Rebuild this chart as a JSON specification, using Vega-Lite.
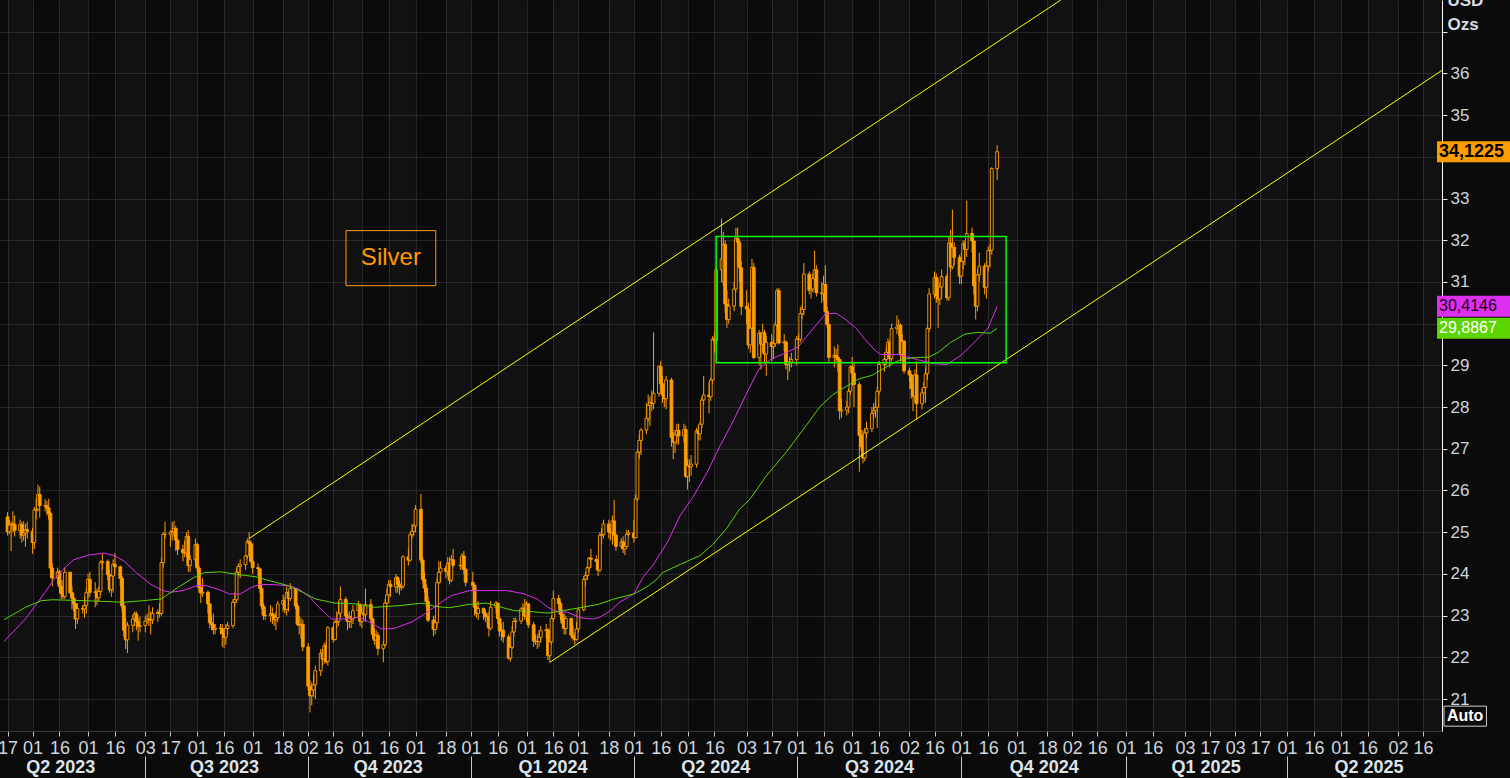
{
"$schema": "https://vega.github.io/schema/vega-lite/v6.json",
"width": 1442, "height": 731,
"autosize": {"type": "none"},
"padding": {"left": 0, "top": 0, "right": 68, "bottom": 47},
"background": "#0b0b0b",
"config": {"view": {"stroke": null}, "axis": {"labelFlush": false, "labelOverlap": false, "labelBound": false}},
"datasets": {
"candles": [
{"d":"2023-04-17","o":25.37,"h":25.48,"l":24.92,"c":25.01},
{"d":"2023-04-18","o":25.01,"h":25.30,"l":24.95,"c":25.17},
{"d":"2023-04-19","o":25.17,"h":25.25,"l":24.55,"c":25.20},
{"d":"2023-04-20","o":25.20,"h":25.50,"l":25.00,"c":25.19},
{"d":"2023-04-21","o":25.19,"h":25.40,"l":24.90,"c":25.04},
{"d":"2023-04-24","o":25.04,"h":25.30,"l":24.85,"c":25.18},
{"d":"2023-04-25","o":25.18,"h":25.25,"l":24.75,"c":24.93},
{"d":"2023-04-26","o":24.93,"h":25.26,"l":24.80,"c":24.98},
{"d":"2023-04-27","o":24.98,"h":25.20,"l":24.65,"c":25.06},
{"d":"2023-04-28","o":25.06,"h":25.25,"l":24.85,"c":25.02},
{"d":"2023-05-01","o":25.02,"h":25.10,"l":24.48,"c":24.75},
{"d":"2023-05-02","o":24.75,"h":25.60,"l":24.60,"c":25.53},
{"d":"2023-05-03","o":25.53,"h":25.82,"l":25.30,"c":25.55},
{"d":"2023-05-04","o":25.55,"h":26.14,"l":25.50,"c":25.90},
{"d":"2023-05-05","o":25.90,"h":26.09,"l":25.35,"c":25.64},
{"d":"2023-05-08","o":25.64,"h":25.80,"l":25.50,"c":25.63},
{"d":"2023-05-09","o":25.63,"h":25.75,"l":25.40,"c":25.58},
{"d":"2023-05-10","o":25.58,"h":25.80,"l":25.30,"c":25.45},
{"d":"2023-05-11","o":25.45,"h":25.50,"l":23.90,"c":24.14},
{"d":"2023-05-12","o":24.14,"h":24.25,"l":23.70,"c":23.90},
{"d":"2023-05-15","o":23.90,"h":24.15,"l":23.75,"c":24.05},
{"d":"2023-05-16","o":24.05,"h":24.10,"l":23.55,"c":23.70},
{"d":"2023-05-17","o":23.70,"h":23.85,"l":23.40,"c":23.53},
{"d":"2023-05-18","o":23.53,"h":23.85,"l":23.40,"c":23.46},
{"d":"2023-05-19","o":23.46,"h":24.15,"l":23.40,"c":24.04},
{"d":"2023-05-22","o":24.04,"h":24.05,"l":23.50,"c":23.55},
{"d":"2023-05-23","o":23.55,"h":23.70,"l":23.15,"c":23.42},
{"d":"2023-05-24","o":23.42,"h":23.55,"l":23.10,"c":23.28},
{"d":"2023-05-25","o":23.28,"h":23.30,"l":22.68,"c":22.92},
{"d":"2023-05-26","o":22.92,"h":23.30,"l":22.80,"c":23.17},
{"d":"2023-05-29","o":23.17,"h":23.25,"l":23.05,"c":23.16},
{"d":"2023-05-30","o":23.16,"h":23.45,"l":22.95,"c":23.24},
{"d":"2023-05-31","o":23.24,"h":23.65,"l":23.05,"c":23.55},
{"d":"2023-06-01","o":23.55,"h":24.00,"l":23.40,"c":23.87},
{"d":"2023-06-02","o":23.87,"h":24.05,"l":23.45,"c":23.56},
{"d":"2023-06-05","o":23.56,"h":23.80,"l":23.20,"c":23.57},
{"d":"2023-06-06","o":23.57,"h":23.65,"l":23.25,"c":23.43},
{"d":"2023-06-07","o":23.43,"h":23.70,"l":23.35,"c":23.58},
{"d":"2023-06-08","o":23.58,"h":24.32,"l":23.50,"c":24.27},
{"d":"2023-06-09","o":24.27,"h":24.50,"l":24.10,"c":24.30},
{"d":"2023-06-12","o":24.30,"h":24.35,"l":23.85,"c":23.98},
{"d":"2023-06-13","o":23.98,"h":24.10,"l":23.55,"c":23.62},
{"d":"2023-06-14","o":23.62,"h":24.00,"l":23.45,"c":23.95},
{"d":"2023-06-15","o":23.95,"h":24.35,"l":23.55,"c":24.23},
{"d":"2023-06-16","o":24.23,"h":24.50,"l":24.00,"c":24.17},
{"d":"2023-06-19","o":24.17,"h":24.20,"l":23.70,"c":23.89},
{"d":"2023-06-20","o":23.89,"h":23.95,"l":23.10,"c":23.23},
{"d":"2023-06-21","o":23.23,"h":23.30,"l":22.50,"c":22.65},
{"d":"2023-06-22","o":22.65,"h":22.95,"l":22.20,"c":22.42},
{"d":"2023-06-23","o":22.42,"h":22.85,"l":22.10,"c":22.77},
{"d":"2023-06-26","o":22.77,"h":23.02,"l":22.60,"c":22.92},
{"d":"2023-06-27","o":22.92,"h":23.10,"l":22.75,"c":23.04},
{"d":"2023-06-28","o":23.04,"h":23.10,"l":22.65,"c":22.86},
{"d":"2023-06-29","o":22.86,"h":22.95,"l":22.40,"c":22.74},
{"d":"2023-06-30","o":22.74,"h":22.98,"l":22.60,"c":22.76},
{"d":"2023-07-03","o":22.76,"h":23.00,"l":22.60,"c":22.87},
{"d":"2023-07-04","o":22.87,"h":23.05,"l":22.80,"c":22.92},
{"d":"2023-07-05","o":22.92,"h":23.25,"l":22.75,"c":22.90},
{"d":"2023-07-06","o":22.90,"h":23.10,"l":22.55,"c":22.90},
{"d":"2023-07-07","o":22.90,"h":23.20,"l":22.80,"c":23.05},
{"d":"2023-07-10","o":23.05,"h":23.15,"l":22.85,"c":23.08},
{"d":"2023-07-11","o":23.08,"h":23.30,"l":22.95,"c":23.05},
{"d":"2023-07-12","o":23.05,"h":24.40,"l":23.00,"c":24.27},
{"d":"2023-07-13","o":24.27,"h":25.00,"l":24.15,"c":24.95},
{"d":"2023-07-14","o":24.95,"h":25.25,"l":24.85,"c":24.95},
{"d":"2023-07-17","o":24.95,"h":25.05,"l":24.65,"c":25.00},
{"d":"2023-07-18","o":25.00,"h":25.25,"l":24.80,"c":25.02},
{"d":"2023-07-19","o":25.02,"h":25.27,"l":24.90,"c":25.09},
{"d":"2023-07-20","o":25.09,"h":25.15,"l":24.55,"c":24.81},
{"d":"2023-07-21","o":24.81,"h":24.85,"l":24.45,"c":24.59},
{"d":"2023-07-24","o":24.59,"h":24.70,"l":24.30,"c":24.51},
{"d":"2023-07-25","o":24.51,"h":24.80,"l":24.40,"c":24.50},
{"d":"2023-07-26","o":24.50,"h":25.00,"l":24.40,"c":24.90},
{"d":"2023-07-27","o":24.90,"h":25.05,"l":24.05,"c":24.20},
{"d":"2023-07-28","o":24.20,"h":24.45,"l":24.05,"c":24.34},
{"d":"2023-07-31","o":24.34,"h":24.85,"l":24.20,"c":24.70},
{"d":"2023-08-01","o":24.70,"h":24.75,"l":24.05,"c":24.14},
{"d":"2023-08-02","o":24.14,"h":24.20,"l":23.55,"c":23.67},
{"d":"2023-08-03","o":23.67,"h":23.75,"l":23.30,"c":23.54},
{"d":"2023-08-04","o":23.54,"h":23.90,"l":23.45,"c":23.56},
{"d":"2023-08-07","o":23.56,"h":23.60,"l":23.05,"c":23.28},
{"d":"2023-08-08","o":23.28,"h":23.30,"l":22.70,"c":22.83},
{"d":"2023-08-09","o":22.83,"h":23.00,"l":22.65,"c":22.79},
{"d":"2023-08-10","o":22.79,"h":23.05,"l":22.55,"c":22.67},
{"d":"2023-08-11","o":22.67,"h":22.80,"l":22.55,"c":22.70},
{"d":"2023-08-14","o":22.70,"h":22.80,"l":22.55,"c":22.69},
{"d":"2023-08-15","o":22.69,"h":22.80,"l":22.25,"c":22.57},
{"d":"2023-08-16","o":22.57,"h":22.70,"l":22.22,"c":22.48},
{"d":"2023-08-17","o":22.48,"h":22.80,"l":22.30,"c":22.69},
{"d":"2023-08-18","o":22.69,"h":22.85,"l":22.55,"c":22.76},
{"d":"2023-08-21","o":22.76,"h":23.40,"l":22.70,"c":23.32},
{"d":"2023-08-22","o":23.32,"h":23.55,"l":23.20,"c":23.38},
{"d":"2023-08-23","o":23.38,"h":24.15,"l":23.30,"c":24.04},
{"d":"2023-08-24","o":24.04,"h":24.25,"l":23.95,"c":24.18},
{"d":"2023-08-25","o":24.18,"h":24.35,"l":23.90,"c":24.22},
{"d":"2023-08-28","o":24.22,"h":24.45,"l":24.10,"c":24.43},
{"d":"2023-08-29","o":24.43,"h":24.85,"l":24.35,"c":24.78},
{"d":"2023-08-30","o":24.78,"h":25.00,"l":24.55,"c":24.73},
{"d":"2023-08-31","o":24.73,"h":24.80,"l":24.25,"c":24.30},
{"d":"2023-09-01","o":24.30,"h":24.70,"l":24.00,"c":24.15},
{"d":"2023-09-04","o":24.15,"h":24.25,"l":23.95,"c":24.12},
{"d":"2023-09-05","o":24.12,"h":24.15,"l":23.55,"c":23.65},
{"d":"2023-09-06","o":23.65,"h":23.75,"l":23.15,"c":23.23},
{"d":"2023-09-07","o":23.23,"h":23.30,"l":22.90,"c":23.01},
{"d":"2023-09-08","o":23.01,"h":23.20,"l":22.90,"c":23.00},
{"d":"2023-09-11","o":23.00,"h":23.25,"l":22.85,"c":23.05},
{"d":"2023-09-12","o":23.05,"h":23.20,"l":22.80,"c":23.00},
{"d":"2023-09-13","o":23.00,"h":23.05,"l":22.75,"c":22.90},
{"d":"2023-09-14","o":22.90,"h":23.10,"l":22.65,"c":22.95},
{"d":"2023-09-15","o":22.95,"h":23.35,"l":22.85,"c":23.28},
{"d":"2023-09-18","o":23.28,"h":23.50,"l":23.10,"c":23.36},
{"d":"2023-09-19","o":23.36,"h":23.45,"l":23.05,"c":23.15},
{"d":"2023-09-20","o":23.15,"h":23.70,"l":23.00,"c":23.55},
{"d":"2023-09-21","o":23.55,"h":23.60,"l":23.10,"c":23.41},
{"d":"2023-09-22","o":23.41,"h":23.78,"l":23.35,"c":23.65},
{"d":"2023-09-25","o":23.65,"h":23.65,"l":23.15,"c":23.23},
{"d":"2023-09-26","o":23.23,"h":23.30,"l":22.75,"c":22.79},
{"d":"2023-09-27","o":22.79,"h":23.00,"l":22.55,"c":22.77},
{"d":"2023-09-28","o":22.77,"h":22.95,"l":22.45,"c":22.79},
{"d":"2023-09-29","o":22.79,"h":22.90,"l":22.15,"c":22.25},
{"d":"2023-10-02","o":22.25,"h":22.35,"l":21.20,"c":21.31},
{"d":"2023-10-03","o":21.31,"h":21.45,"l":20.68,"c":21.08},
{"d":"2023-10-04","o":21.08,"h":21.40,"l":20.85,"c":21.22},
{"d":"2023-10-05","o":21.22,"h":21.60,"l":21.05,"c":21.34},
{"d":"2023-10-06","o":21.34,"h":21.80,"l":21.00,"c":21.68},
{"d":"2023-10-09","o":21.68,"h":22.20,"l":21.55,"c":22.10},
{"d":"2023-10-10","o":22.10,"h":22.20,"l":21.80,"c":21.96},
{"d":"2023-10-11","o":21.96,"h":22.35,"l":21.85,"c":22.28},
{"d":"2023-10-12","o":22.28,"h":22.40,"l":21.85,"c":21.90},
{"d":"2023-10-13","o":21.90,"h":22.75,"l":21.80,"c":22.71},
{"d":"2023-10-16","o":22.71,"h":22.75,"l":22.35,"c":22.43},
{"d":"2023-10-17","o":22.43,"h":22.90,"l":22.40,"c":22.84},
{"d":"2023-10-18","o":22.84,"h":23.10,"l":22.70,"c":22.86},
{"d":"2023-10-19","o":22.86,"h":23.35,"l":22.75,"c":23.06},
{"d":"2023-10-20","o":23.06,"h":23.70,"l":22.95,"c":23.39},
{"d":"2023-10-23","o":23.39,"h":23.45,"l":22.90,"c":22.99},
{"d":"2023-10-24","o":22.99,"h":23.05,"l":22.65,"c":22.86},
{"d":"2023-10-25","o":22.86,"h":23.10,"l":22.70,"c":22.97},
{"d":"2023-10-26","o":22.97,"h":23.00,"l":22.70,"c":22.92},
{"d":"2023-10-27","o":22.92,"h":23.25,"l":22.80,"c":23.12},
{"d":"2023-10-30","o":23.12,"h":23.35,"l":22.95,"c":23.26},
{"d":"2023-10-31","o":23.26,"h":23.30,"l":22.75,"c":22.86},
{"d":"2023-11-01","o":22.86,"h":23.20,"l":22.70,"c":23.06},
{"d":"2023-11-02","o":23.06,"h":23.25,"l":22.90,"c":23.02},
{"d":"2023-11-03","o":23.02,"h":23.65,"l":22.85,"c":23.27},
{"d":"2023-11-06","o":23.27,"h":23.40,"l":22.85,"c":22.92},
{"d":"2023-11-07","o":22.92,"h":22.95,"l":22.45,"c":22.55},
{"d":"2023-11-08","o":22.55,"h":22.70,"l":22.30,"c":22.41},
{"d":"2023-11-09","o":22.41,"h":22.65,"l":22.25,"c":22.53},
{"d":"2023-11-10","o":22.53,"h":22.60,"l":22.05,"c":22.21},
{"d":"2023-11-13","o":22.21,"h":22.40,"l":21.88,"c":22.30},
{"d":"2023-11-14","o":22.30,"h":23.40,"l":22.25,"c":23.30},
{"d":"2023-11-15","o":23.30,"h":23.65,"l":23.15,"c":23.50},
{"d":"2023-11-16","o":23.50,"h":23.85,"l":23.30,"c":23.75},
{"d":"2023-11-17","o":23.75,"h":23.85,"l":23.45,"c":23.69},
{"d":"2023-11-20","o":23.69,"h":24.00,"l":23.55,"c":23.91},
{"d":"2023-11-21","o":23.91,"h":23.95,"l":23.55,"c":23.75},
{"d":"2023-11-22","o":23.75,"h":23.85,"l":23.50,"c":23.68},
{"d":"2023-11-23","o":23.68,"h":23.80,"l":23.60,"c":23.70},
{"d":"2023-11-24","o":23.70,"h":24.45,"l":23.65,"c":24.41},
{"d":"2023-11-27","o":24.41,"h":24.60,"l":24.20,"c":24.33},
{"d":"2023-11-28","o":24.33,"h":25.00,"l":24.30,"c":24.94},
{"d":"2023-11-29","o":24.94,"h":25.20,"l":24.85,"c":25.02},
{"d":"2023-11-30","o":25.02,"h":25.20,"l":24.90,"c":25.15},
{"d":"2023-12-01","o":25.15,"h":25.65,"l":25.00,"c":25.55},
{"d":"2023-12-04","o":25.55,"h":25.92,"l":24.25,"c":24.33},
{"d":"2023-12-05","o":24.33,"h":24.40,"l":23.80,"c":23.87},
{"d":"2023-12-06","o":23.87,"h":24.05,"l":23.55,"c":23.66},
{"d":"2023-12-07","o":23.66,"h":23.75,"l":23.20,"c":23.34},
{"d":"2023-12-08","o":23.34,"h":23.45,"l":22.85,"c":22.89},
{"d":"2023-12-11","o":22.89,"h":23.00,"l":22.50,"c":22.67},
{"d":"2023-12-12","o":22.67,"h":23.00,"l":22.55,"c":22.83},
{"d":"2023-12-13","o":22.83,"h":23.90,"l":22.70,"c":23.79},
{"d":"2023-12-14","o":23.79,"h":24.30,"l":23.75,"c":24.04},
{"d":"2023-12-15","o":24.04,"h":24.30,"l":23.80,"c":24.14},
{"d":"2023-12-18","o":24.14,"h":24.20,"l":23.90,"c":24.06},
{"d":"2023-12-19","o":24.06,"h":24.40,"l":23.95,"c":24.26},
{"d":"2023-12-20","o":24.26,"h":24.40,"l":23.75,"c":23.85},
{"d":"2023-12-21","o":23.85,"h":24.45,"l":23.80,"c":24.34},
{"d":"2023-12-22","o":24.34,"h":24.60,"l":24.15,"c":24.21},
{"d":"2023-12-26","o":24.21,"h":24.40,"l":24.10,"c":24.20},
{"d":"2023-12-27","o":24.20,"h":24.50,"l":24.10,"c":24.43},
{"d":"2023-12-28","o":24.43,"h":24.55,"l":24.00,"c":24.11},
{"d":"2023-12-29","o":24.11,"h":24.15,"l":23.70,"c":23.80},
{"d":"2024-01-02","o":23.80,"h":24.05,"l":23.60,"c":23.73},
{"d":"2024-01-03","o":23.73,"h":23.75,"l":23.00,"c":23.20},
{"d":"2024-01-04","o":23.20,"h":23.30,"l":22.95,"c":23.05},
{"d":"2024-01-05","o":23.05,"h":23.35,"l":22.90,"c":23.17},
{"d":"2024-01-08","o":23.17,"h":23.20,"l":22.90,"c":23.06},
{"d":"2024-01-09","o":23.06,"h":23.15,"l":22.85,"c":22.97},
{"d":"2024-01-10","o":22.97,"h":23.05,"l":22.75,"c":22.98},
{"d":"2024-01-11","o":22.98,"h":23.10,"l":22.50,"c":22.70},
{"d":"2024-01-12","o":22.70,"h":23.35,"l":22.65,"c":23.20},
{"d":"2024-01-15","o":23.20,"h":23.35,"l":23.05,"c":23.30},
{"d":"2024-01-16","o":23.30,"h":23.30,"l":22.80,"c":22.93},
{"d":"2024-01-17","o":22.93,"h":22.95,"l":22.50,"c":22.63},
{"d":"2024-01-18","o":22.63,"h":22.80,"l":22.40,"c":22.65},
{"d":"2024-01-19","o":22.65,"h":22.85,"l":22.35,"c":22.49},
{"d":"2024-01-22","o":22.49,"h":22.55,"l":21.95,"c":21.98},
{"d":"2024-01-23","o":21.98,"h":22.30,"l":21.90,"c":22.24},
{"d":"2024-01-24","o":22.24,"h":22.75,"l":22.20,"c":22.61},
{"d":"2024-01-25","o":22.61,"h":22.95,"l":22.50,"c":22.86},
{"d":"2024-01-26","o":22.86,"h":22.95,"l":22.70,"c":22.87},
{"d":"2024-01-29","o":22.87,"h":23.20,"l":22.80,"c":23.16},
{"d":"2024-01-30","o":23.16,"h":23.30,"l":23.00,"c":23.18},
{"d":"2024-01-31","o":23.18,"h":23.40,"l":22.90,"c":22.99},
{"d":"2024-02-01","o":22.99,"h":23.35,"l":22.85,"c":23.28},
{"d":"2024-02-02","o":23.28,"h":23.30,"l":22.70,"c":22.78},
{"d":"2024-02-05","o":22.78,"h":22.85,"l":22.25,"c":22.39},
{"d":"2024-02-06","o":22.39,"h":22.55,"l":22.30,"c":22.38},
{"d":"2024-02-07","o":22.38,"h":22.55,"l":22.20,"c":22.38},
{"d":"2024-02-08","o":22.38,"h":22.65,"l":22.25,"c":22.48},
{"d":"2024-02-09","o":22.48,"h":22.75,"l":22.35,"c":22.64},
{"d":"2024-02-12","o":22.64,"h":22.80,"l":22.45,"c":22.66},
{"d":"2024-02-13","o":22.66,"h":22.70,"l":21.93,"c":22.04},
{"d":"2024-02-14","o":22.04,"h":22.40,"l":21.88,"c":22.37},
{"d":"2024-02-15","o":22.37,"h":23.00,"l":22.30,"c":22.93},
{"d":"2024-02-16","o":22.93,"h":23.60,"l":22.85,"c":23.41},
{"d":"2024-02-19","o":23.41,"h":23.50,"l":23.15,"c":23.29},
{"d":"2024-02-20","o":23.29,"h":23.35,"l":22.90,"c":23.03},
{"d":"2024-02-21","o":23.03,"h":23.10,"l":22.70,"c":22.82},
{"d":"2024-02-22","o":22.82,"h":23.05,"l":22.55,"c":22.69},
{"d":"2024-02-23","o":22.69,"h":23.00,"l":22.55,"c":22.93},
{"d":"2024-02-26","o":22.93,"h":22.95,"l":22.45,"c":22.53},
{"d":"2024-02-27","o":22.53,"h":22.75,"l":22.40,"c":22.48},
{"d":"2024-02-28","o":22.48,"h":22.60,"l":22.30,"c":22.43},
{"d":"2024-02-29","o":22.43,"h":22.85,"l":22.40,"c":22.68},
{"d":"2024-03-01","o":22.68,"h":23.20,"l":22.60,"c":23.14},
{"d":"2024-03-04","o":23.14,"h":23.95,"l":23.10,"c":23.87},
{"d":"2024-03-05","o":23.87,"h":24.05,"l":23.70,"c":23.96},
{"d":"2024-03-06","o":23.96,"h":24.20,"l":23.85,"c":24.15},
{"d":"2024-03-07","o":24.15,"h":24.40,"l":24.05,"c":24.38},
{"d":"2024-03-08","o":24.38,"h":24.60,"l":24.15,"c":24.35},
{"d":"2024-03-11","o":24.35,"h":24.45,"l":24.10,"c":24.30},
{"d":"2024-03-12","o":24.30,"h":24.35,"l":23.95,"c":24.09},
{"d":"2024-03-13","o":24.09,"h":25.00,"l":24.05,"c":24.93},
{"d":"2024-03-14","o":24.93,"h":25.10,"l":24.70,"c":24.94},
{"d":"2024-03-15","o":24.94,"h":25.30,"l":24.85,"c":25.20},
{"d":"2024-03-18","o":25.20,"h":25.30,"l":24.85,"c":25.01},
{"d":"2024-03-19","o":25.01,"h":25.10,"l":24.80,"c":24.99},
{"d":"2024-03-20","o":24.99,"h":25.40,"l":24.70,"c":25.27},
{"d":"2024-03-21","o":25.27,"h":25.77,"l":24.80,"c":24.93},
{"d":"2024-03-22","o":24.93,"h":24.95,"l":24.55,"c":24.66},
{"d":"2024-03-25","o":24.66,"h":24.85,"l":24.60,"c":24.77},
{"d":"2024-03-26","o":24.77,"h":24.90,"l":24.50,"c":24.60},
{"d":"2024-03-27","o":24.60,"h":24.75,"l":24.45,"c":24.66},
{"d":"2024-03-28","o":24.66,"h":25.05,"l":24.60,"c":24.95},
{"d":"2024-03-29","o":24.95,"h":25.05,"l":24.90,"c":24.98},
{"d":"2024-04-01","o":24.98,"h":25.30,"l":24.75,"c":24.87},
{"d":"2024-04-02","o":24.87,"h":25.90,"l":24.85,"c":25.80},
{"d":"2024-04-03","o":25.80,"h":27.00,"l":25.75,"c":26.92},
{"d":"2024-04-04","o":26.92,"h":27.35,"l":26.75,"c":27.20},
{"d":"2024-04-05","o":27.20,"h":27.50,"l":26.85,"c":27.45},
{"d":"2024-04-08","o":27.45,"h":28.10,"l":27.35,"c":27.73},
{"d":"2024-04-09","o":27.73,"h":28.30,"l":27.65,"c":28.04},
{"d":"2024-04-10","o":28.04,"h":28.25,"l":27.55,"c":28.11},
{"d":"2024-04-11","o":28.11,"h":28.40,"l":27.90,"c":28.09},
{"d":"2024-04-12","o":28.09,"h":29.79,"l":27.95,"c":28.33},
{"d":"2024-04-15","o":28.33,"h":29.00,"l":28.25,"c":28.97},
{"d":"2024-04-16","o":28.97,"h":29.10,"l":28.40,"c":28.56},
{"d":"2024-04-17","o":28.56,"h":28.75,"l":28.10,"c":28.29},
{"d":"2024-04-18","o":28.29,"h":28.55,"l":28.00,"c":28.20},
{"d":"2024-04-19","o":28.20,"h":28.75,"l":27.95,"c":28.65},
{"d":"2024-04-22","o":28.65,"h":28.70,"l":27.05,"c":27.27},
{"d":"2024-04-23","o":27.27,"h":27.40,"l":26.75,"c":27.16},
{"d":"2024-04-24","o":27.16,"h":27.45,"l":26.90,"c":27.33},
{"d":"2024-04-25","o":27.33,"h":27.60,"l":27.10,"c":27.44},
{"d":"2024-04-26","o":27.44,"h":27.60,"l":27.10,"c":27.31},
{"d":"2024-04-29","o":27.31,"h":27.60,"l":27.15,"c":27.46},
{"d":"2024-04-30","o":27.46,"h":27.55,"l":26.30,"c":26.34},
{"d":"2024-05-01","o":26.34,"h":26.75,"l":26.02,"c":26.60},
{"d":"2024-05-02","o":26.60,"h":26.75,"l":26.20,"c":26.57},
{"d":"2024-05-03","o":26.57,"h":26.85,"l":26.35,"c":26.63},
{"d":"2024-05-06","o":26.63,"h":27.50,"l":26.55,"c":27.43},
{"d":"2024-05-07","o":27.43,"h":27.55,"l":27.20,"c":27.36},
{"d":"2024-05-08","o":27.36,"h":27.65,"l":27.20,"c":27.59},
{"d":"2024-05-09","o":27.59,"h":28.25,"l":27.50,"c":28.17},
{"d":"2024-05-10","o":28.17,"h":28.75,"l":28.05,"c":28.29},
{"d":"2024-05-13","o":28.29,"h":28.60,"l":27.85,"c":28.25},
{"d":"2024-05-14","o":28.25,"h":28.70,"l":28.15,"c":28.65},
{"d":"2024-05-15","o":28.65,"h":29.70,"l":28.55,"c":29.63},
{"d":"2024-05-16","o":29.63,"h":29.80,"l":29.30,"c":29.59},
{"d":"2024-05-17","o":29.59,"h":31.35,"l":29.50,"c":31.29},
{"d":"2024-05-20","o":31.29,"h":32.51,"l":31.00,"c":31.55},
{"d":"2024-05-21","o":31.00,"h":32.20,"l":30.90,"c":31.90},
{"d":"2024-05-22","o":31.90,"h":32.00,"l":30.25,"c":30.47},
{"d":"2024-05-23","o":30.47,"h":30.80,"l":29.90,"c":30.10},
{"d":"2024-05-24","o":30.10,"h":30.60,"l":30.00,"c":30.42},
{"d":"2024-05-27","o":30.42,"h":31.00,"l":30.30,"c":30.83},
{"d":"2024-05-28","o":30.83,"h":32.30,"l":30.75,"c":32.04},
{"d":"2024-05-29","o":32.04,"h":32.30,"l":31.40,"c":31.95},
{"d":"2024-05-30","o":31.95,"h":32.00,"l":31.00,"c":31.34},
{"d":"2024-05-31","o":31.34,"h":31.50,"l":30.20,"c":30.41},
{"d":"2024-06-03","o":30.41,"h":30.80,"l":30.00,"c":30.35},
{"d":"2024-06-04","o":30.35,"h":30.50,"l":29.40,"c":29.49},
{"d":"2024-06-05","o":29.49,"h":30.00,"l":29.30,"c":29.89},
{"d":"2024-06-06","o":29.89,"h":31.55,"l":29.85,"c":31.35},
{"d":"2024-06-07","o":31.35,"h":31.45,"l":29.15,"c":29.19},
{"d":"2024-06-10","o":29.19,"h":29.85,"l":29.00,"c":29.77},
{"d":"2024-06-11","o":29.77,"h":29.80,"l":28.90,"c":29.51},
{"d":"2024-06-12","o":29.51,"h":30.00,"l":29.30,"c":29.78},
{"d":"2024-06-13","o":29.78,"h":29.85,"l":29.05,"c":29.27},
{"d":"2024-06-14","o":29.27,"h":29.70,"l":28.75,"c":29.55},
{"d":"2024-06-17","o":29.55,"h":29.75,"l":29.10,"c":29.45},
{"d":"2024-06-18","o":29.45,"h":29.65,"l":29.15,"c":29.52},
{"d":"2024-06-19","o":29.52,"h":30.05,"l":29.45,"c":29.97},
{"d":"2024-06-20","o":29.97,"h":30.85,"l":29.90,"c":30.79},
{"d":"2024-06-21","o":30.79,"h":30.85,"l":29.50,"c":29.54},
{"d":"2024-06-24","o":29.54,"h":29.75,"l":29.35,"c":29.56},
{"d":"2024-06-25","o":29.56,"h":29.60,"l":28.90,"c":29.02},
{"d":"2024-06-26","o":29.02,"h":29.10,"l":28.65,"c":29.07},
{"d":"2024-06-27","o":29.07,"h":29.20,"l":28.85,"c":29.08},
{"d":"2024-06-28","o":29.08,"h":29.30,"l":28.95,"c":29.14},
{"d":"2024-07-01","o":29.14,"h":29.70,"l":29.00,"c":29.63},
{"d":"2024-07-02","o":29.63,"h":29.75,"l":29.40,"c":29.62},
{"d":"2024-07-03","o":29.62,"h":30.40,"l":29.55,"c":30.24},
{"d":"2024-07-04","o":30.24,"h":30.45,"l":30.10,"c":30.34},
{"d":"2024-07-05","o":30.34,"h":31.45,"l":30.20,"c":31.19},
{"d":"2024-07-08","o":31.19,"h":31.25,"l":30.70,"c":30.80},
{"d":"2024-07-09","o":30.80,"h":30.95,"l":30.60,"c":30.83},
{"d":"2024-07-10","o":30.83,"h":31.20,"l":30.75,"c":31.08},
{"d":"2024-07-11","o":31.08,"h":31.75,"l":30.90,"c":31.29},
{"d":"2024-07-12","o":31.29,"h":31.40,"l":30.65,"c":30.74},
{"d":"2024-07-15","o":30.74,"h":31.00,"l":30.50,"c":30.72},
{"d":"2024-07-16","o":30.72,"h":31.15,"l":30.55,"c":30.94},
{"d":"2024-07-17","o":30.94,"h":31.40,"l":30.20,"c":30.29},
{"d":"2024-07-18","o":30.29,"h":30.40,"l":29.90,"c":29.98},
{"d":"2024-07-19","o":29.98,"h":30.00,"l":29.05,"c":29.19},
{"d":"2024-07-22","o":29.19,"h":29.45,"l":28.95,"c":29.24},
{"d":"2024-07-23","o":29.24,"h":29.40,"l":29.05,"c":29.20},
{"d":"2024-07-24","o":29.20,"h":29.50,"l":28.85,"c":29.14},
{"d":"2024-07-25","o":29.14,"h":29.15,"l":27.70,"c":27.91},
{"d":"2024-07-26","o":27.91,"h":28.20,"l":27.75,"c":27.93},
{"d":"2024-07-29","o":27.93,"h":28.15,"l":27.80,"c":28.00},
{"d":"2024-07-30","o":28.00,"h":28.45,"l":27.85,"c":28.38},
{"d":"2024-07-31","o":28.38,"h":29.00,"l":28.30,"c":28.96},
{"d":"2024-08-01","o":28.96,"h":29.20,"l":28.50,"c":28.81},
{"d":"2024-08-02","o":28.81,"h":29.05,"l":28.00,"c":28.54},
{"d":"2024-08-05","o":28.54,"h":28.60,"l":26.45,"c":27.32},
{"d":"2024-08-06","o":27.32,"h":27.45,"l":26.95,"c":27.05},
{"d":"2024-08-07","o":27.05,"h":27.45,"l":26.65,"c":26.78},
{"d":"2024-08-08","o":26.78,"h":27.50,"l":26.70,"c":27.38},
{"d":"2024-08-09","o":27.38,"h":27.65,"l":27.25,"c":27.48},
{"d":"2024-08-12","o":27.48,"h":28.00,"l":27.40,"c":27.85},
{"d":"2024-08-13","o":27.85,"h":28.10,"l":27.70,"c":27.91},
{"d":"2024-08-14","o":27.91,"h":28.20,"l":27.75,"c":27.99},
{"d":"2024-08-15","o":27.99,"h":28.50,"l":27.50,"c":28.38},
{"d":"2024-08-16","o":28.38,"h":29.10,"l":28.30,"c":29.02},
{"d":"2024-08-19","o":29.02,"h":29.30,"l":28.85,"c":29.14},
{"d":"2024-08-20","o":29.14,"h":29.45,"l":29.00,"c":29.31},
{"d":"2024-08-21","o":29.31,"h":29.65,"l":29.20,"c":29.55},
{"d":"2024-08-22","o":29.55,"h":29.60,"l":28.95,"c":29.16},
{"d":"2024-08-23","o":29.16,"h":30.00,"l":29.10,"c":29.88},
{"d":"2024-08-26","o":29.88,"h":30.20,"l":29.75,"c":29.92},
{"d":"2024-08-27","o":29.92,"h":30.10,"l":29.70,"c":29.96},
{"d":"2024-08-28","o":29.96,"h":30.00,"l":29.05,"c":29.26},
{"d":"2024-08-29","o":29.26,"h":29.75,"l":29.10,"c":29.58},
{"d":"2024-08-30","o":29.58,"h":29.60,"l":28.80,"c":28.87},
{"d":"2024-09-02","o":28.87,"h":28.95,"l":28.60,"c":28.77},
{"d":"2024-09-03","o":28.77,"h":28.80,"l":28.20,"c":28.44},
{"d":"2024-09-04","o":28.44,"h":28.55,"l":27.90,"c":28.26},
{"d":"2024-09-05","o":28.26,"h":28.90,"l":28.10,"c":28.77},
{"d":"2024-09-06","o":28.77,"h":29.10,"l":27.70,"c":28.08},
{"d":"2024-09-09","o":28.08,"h":28.45,"l":27.95,"c":28.34},
{"d":"2024-09-10","o":28.34,"h":28.60,"l":28.10,"c":28.47},
{"d":"2024-09-11","o":28.47,"h":28.95,"l":28.10,"c":28.80},
{"d":"2024-09-12","o":28.80,"h":29.95,"l":28.65,"c":29.88},
{"d":"2024-09-13","o":29.88,"h":30.85,"l":29.80,"c":30.71},
{"d":"2024-09-16","o":30.71,"h":31.25,"l":30.60,"c":31.11},
{"d":"2024-09-17","o":31.11,"h":31.20,"l":30.50,"c":30.66},
{"d":"2024-09-18","o":30.66,"h":31.10,"l":29.90,"c":30.59},
{"d":"2024-09-19","o":30.59,"h":31.00,"l":30.45,"c":30.88},
{"d":"2024-09-20","o":30.88,"h":31.30,"l":30.60,"c":31.13},
{"d":"2024-09-23","o":31.13,"h":31.20,"l":30.55,"c":30.62},
{"d":"2024-09-24","o":30.62,"h":32.10,"l":30.55,"c":31.93},
{"d":"2024-09-25","o":31.93,"h":32.25,"l":31.25,"c":31.36},
{"d":"2024-09-26","o":31.36,"h":32.73,"l":31.30,"c":31.83},
{"d":"2024-09-27","o":31.83,"h":31.95,"l":31.40,"c":31.59},
{"d":"2024-09-30","o":31.59,"h":31.65,"l":30.95,"c":31.14},
{"d":"2024-10-01","o":31.14,"h":31.70,"l":30.95,"c":31.49},
{"d":"2024-10-02","o":31.49,"h":32.00,"l":31.30,"c":31.91},
{"d":"2024-10-03","o":31.91,"h":32.00,"l":31.40,"c":31.78},
{"d":"2024-10-04","o":31.78,"h":32.95,"l":31.60,"c":32.16},
{"d":"2024-10-07","o":32.16,"h":32.30,"l":31.70,"c":31.98},
{"d":"2024-10-08","o":31.98,"h":32.00,"l":30.70,"c":30.91},
{"d":"2024-10-09","o":30.91,"h":31.00,"l":30.10,"c":30.42},
{"d":"2024-10-10","o":30.42,"h":31.30,"l":30.30,"c":31.17},
{"d":"2024-10-11","o":31.17,"h":31.70,"l":31.00,"c":31.38},
{"d":"2024-10-14","o":31.38,"h":31.45,"l":30.70,"c":30.87},
{"d":"2024-10-15","o":30.87,"h":31.50,"l":30.60,"c":31.38},
{"d":"2024-10-16","o":31.38,"h":31.85,"l":31.25,"c":31.75},
{"d":"2024-10-17","o":31.75,"h":31.90,"l":31.35,"c":31.76},
{"d":"2024-10-18","o":31.76,"h":33.75,"l":31.65,"c":33.72},
{"d":"2024-10-21","o":33.72,"h":34.28,"l":33.45,"c":34.1225}
],
"ma": [
{"s":"MA50","d":"2023-04-15","v":22.38},{"s":"MA50","d":"2023-04-27","v":22.92},{"s":"MA50","d":"2023-05-08","v":23.56},{"s":"MA50","d":"2023-05-13","v":23.87},{"s":"MA50","d":"2023-05-19","v":24.15},{"s":"MA50","d":"2023-05-24","v":24.34},{"s":"MA50","d":"2023-06-01","v":24.45},{"s":"MA50","d":"2023-06-10","v":24.50},{"s":"MA50","d":"2023-06-16","v":24.43},{"s":"MA50","d":"2023-06-21","v":24.31},{"s":"MA50","d":"2023-06-28","v":24.03},{"s":"MA50","d":"2023-07-06","v":23.75},{"s":"MA50","d":"2023-07-13","v":23.60},{"s":"MA50","d":"2023-07-17","v":23.56},{"s":"MA50","d":"2023-07-24","v":23.60},{"s":"MA50","d":"2023-08-01","v":23.72},{"s":"MA50","d":"2023-08-06","v":23.72},{"s":"MA50","d":"2023-08-14","v":23.61},{"s":"MA50","d":"2023-08-19","v":23.52},{"s":"MA50","d":"2023-08-25","v":23.52},{"s":"MA50","d":"2023-08-31","v":23.67},{"s":"MA50","d":"2023-09-05","v":23.75},{"s":"MA50","d":"2023-09-14","v":23.74},{"s":"MA50","d":"2023-09-22","v":23.71},{"s":"MA50","d":"2023-09-27","v":23.63},{"s":"MA50","d":"2023-10-03","v":23.44},{"s":"MA50","d":"2023-10-08","v":23.20},{"s":"MA50","d":"2023-10-15","v":22.92},{"s":"MA50","d":"2023-10-22","v":22.92},{"s":"MA50","d":"2023-10-30","v":22.96},{"s":"MA50","d":"2023-11-05","v":22.85},{"s":"MA50","d":"2023-11-12","v":22.68},{"s":"MA50","d":"2023-11-19","v":22.69},{"s":"MA50","d":"2023-11-29","v":22.85},{"s":"MA50","d":"2023-12-06","v":23.04},{"s":"MA50","d":"2023-12-14","v":23.28},{"s":"MA50","d":"2023-12-21","v":23.48},{"s":"MA50","d":"2023-12-31","v":23.60},{"s":"MA50","d":"2024-01-10","v":23.60},{"s":"MA50","d":"2024-01-21","v":23.60},{"s":"MA50","d":"2024-01-30","v":23.53},{"s":"MA50","d":"2024-02-07","v":23.40},{"s":"MA50","d":"2024-02-13","v":23.20},{"s":"MA50","d":"2024-02-17","v":23.11},{"s":"MA50","d":"2024-02-24","v":23.08},{"s":"MA50","d":"2024-03-02","v":22.95},{"s":"MA50","d":"2024-03-09","v":22.92},{"s":"MA50","d":"2024-03-13","v":22.96},{"s":"MA50","d":"2024-03-19","v":23.12},{"s":"MA50","d":"2024-03-24","v":23.32},{"s":"MA50","d":"2024-04-01","v":23.52},{"s":"MA50","d":"2024-04-06","v":23.91},{"s":"MA50","d":"2024-04-12","v":24.23},{"s":"MA50","d":"2024-04-20","v":24.78},{"s":"MA50","d":"2024-04-27","v":25.41},{"s":"MA50","d":"2024-05-04","v":25.84},{"s":"MA50","d":"2024-05-12","v":26.44},{"s":"MA50","d":"2024-05-19","v":27.06},{"s":"MA50","d":"2024-05-26","v":27.62},{"s":"MA50","d":"2024-06-03","v":28.33},{"s":"MA50","d":"2024-06-10","v":28.92},{"s":"MA50","d":"2024-06-17","v":29.16},{"s":"MA50","d":"2024-06-25","v":29.30},{"s":"MA50","d":"2024-07-02","v":29.45},{"s":"MA50","d":"2024-07-09","v":29.82},{"s":"MA50","d":"2024-07-17","v":30.23},{"s":"MA50","d":"2024-07-23","v":30.25},{"s":"MA50","d":"2024-07-28","v":30.11},{"s":"MA50","d":"2024-08-03","v":29.90},{"s":"MA50","d":"2024-08-08","v":29.63},{"s":"MA50","d":"2024-08-14","v":29.35},{"s":"MA50","d":"2024-08-17","v":29.26},{"s":"MA50","d":"2024-08-27","v":29.26},{"s":"MA50","d":"2024-09-01","v":29.20},{"s":"MA50","d":"2024-09-08","v":29.12},{"s":"MA50","d":"2024-09-16","v":29.04},{"s":"MA50","d":"2024-09-23","v":29.02},{"s":"MA50","d":"2024-10-01","v":29.25},{"s":"MA50","d":"2024-10-08","v":29.54},{"s":"MA50","d":"2024-10-16","v":29.90},{"s":"MA50","d":"2024-10-21","v":30.4146},
{"s":"MA100","d":"2023-04-15","v":22.90},{"s":"MA100","d":"2023-04-27","v":23.20},{"s":"MA100","d":"2023-05-06","v":23.36},{"s":"MA100","d":"2023-05-12","v":23.38},{"s":"MA100","d":"2023-05-30","v":23.36},{"s":"MA100","d":"2023-06-10","v":23.34},{"s":"MA100","d":"2023-06-21","v":23.32},{"s":"MA100","d":"2023-07-02","v":23.36},{"s":"MA100","d":"2023-07-12","v":23.40},{"s":"MA100","d":"2023-07-21","v":23.67},{"s":"MA100","d":"2023-07-30","v":23.91},{"s":"MA100","d":"2023-08-05","v":24.03},{"s":"MA100","d":"2023-08-14","v":24.05},{"s":"MA100","d":"2023-08-23","v":23.99},{"s":"MA100","d":"2023-09-03","v":23.93},{"s":"MA100","d":"2023-09-11","v":23.83},{"s":"MA100","d":"2023-09-20","v":23.73},{"s":"MA100","d":"2023-09-29","v":23.56},{"s":"MA100","d":"2023-10-06","v":23.40},{"s":"MA100","d":"2023-10-17","v":23.30},{"s":"MA100","d":"2023-10-29","v":23.28},{"s":"MA100","d":"2023-11-08","v":23.20},{"s":"MA100","d":"2023-11-22","v":23.24},{"s":"MA100","d":"2023-12-05","v":23.30},{"s":"MA100","d":"2023-12-12","v":23.22},{"s":"MA100","d":"2023-12-20","v":23.19},{"s":"MA100","d":"2023-12-31","v":23.27},{"s":"MA100","d":"2024-01-10","v":23.30},{"s":"MA100","d":"2024-01-18","v":23.20},{"s":"MA100","d":"2024-01-25","v":23.12},{"s":"MA100","d":"2024-02-03","v":23.10},{"s":"MA100","d":"2024-02-13","v":23.06},{"s":"MA100","d":"2024-02-20","v":23.11},{"s":"MA100","d":"2024-03-02","v":23.19},{"s":"MA100","d":"2024-03-12","v":23.27},{"s":"MA100","d":"2024-03-21","v":23.40},{"s":"MA100","d":"2024-04-01","v":23.52},{"s":"MA100","d":"2024-04-09","v":23.71},{"s":"MA100","d":"2024-04-14","v":23.88},{"s":"MA100","d":"2024-04-17","v":24.03},{"s":"MA100","d":"2024-04-27","v":24.23},{"s":"MA100","d":"2024-05-08","v":24.44},{"s":"MA100","d":"2024-05-15","v":24.70},{"s":"MA100","d":"2024-05-23","v":25.10},{"s":"MA100","d":"2024-05-30","v":25.55},{"s":"MA100","d":"2024-06-05","v":25.80},{"s":"MA100","d":"2024-06-14","v":26.35},{"s":"MA100","d":"2024-06-25","v":26.91},{"s":"MA100","d":"2024-07-06","v":27.54},{"s":"MA100","d":"2024-07-14","v":28.01},{"s":"MA100","d":"2024-07-21","v":28.29},{"s":"MA100","d":"2024-07-28","v":28.48},{"s":"MA100","d":"2024-08-05","v":28.68},{"s":"MA100","d":"2024-08-12","v":28.76},{"s":"MA100","d":"2024-08-20","v":28.96},{"s":"MA100","d":"2024-08-27","v":29.12},{"s":"MA100","d":"2024-09-03","v":29.18},{"s":"MA100","d":"2024-09-13","v":29.20},{"s":"MA100","d":"2024-09-18","v":29.31},{"s":"MA100","d":"2024-09-25","v":29.55},{"s":"MA100","d":"2024-10-03","v":29.75},{"s":"MA100","d":"2024-10-10","v":29.79},{"s":"MA100","d":"2024-10-17","v":29.77},{"s":"MA100","d":"2024-10-21","v":29.8867}
],
"trend": [
{"line":"upper","d":"2023-08-30","v":24.85},{"line":"upper","d":"2025-01-31","v":39.65},
{"line":"lower","d":"2024-02-14","v":21.88},{"line":"lower","d":"2025-06-30","v":36.17}
],
"bands": [
{"s":"2023-04-17","e":"2023-05-01"},{"s":"2023-05-16","e":"2023-06-01"},{"s":"2023-06-16","e":"2023-07-03"},{"s":"2023-07-17","e":"2023-08-01"},{"s":"2023-08-16","e":"2023-09-01"},{"s":"2023-09-18","e":"2023-10-02"},{"s":"2023-10-16","e":"2023-11-01"},{"s":"2023-11-16","e":"2023-12-01"},{"s":"2023-12-18","e":"2024-01-01"},{"s":"2024-01-16","e":"2024-02-01"},{"s":"2024-02-16","e":"2024-03-01"},{"s":"2024-03-18","e":"2024-04-01"},{"s":"2024-04-16","e":"2024-05-01"},{"s":"2024-05-16","e":"2024-06-03"},{"s":"2024-06-17","e":"2024-07-01"},{"s":"2024-07-16","e":"2024-08-01"},{"s":"2024-08-16","e":"2024-09-02"},{"s":"2024-09-16","e":"2024-10-01"},{"s":"2024-10-16","e":"2024-11-01"},{"s":"2024-11-18","e":"2024-12-02"},{"s":"2024-12-16","e":"2025-01-01"},{"s":"2025-01-16","e":"2025-02-03"},{"s":"2025-02-17","e":"2025-03-03"},{"s":"2025-03-17","e":"2025-04-01"},{"s":"2025-04-16","e":"2025-05-01"},{"s":"2025-05-16","e":"2025-06-02"},{"s":"2025-06-16","e":"2025-06-30"}
],
"last": [
{"s":"Silver","v":34.1225,"label":"34,1225"},
{"s":"MA50","v":30.4146,"label":"30,4146"},
{"s":"MA100","v":29.8867,"label":"29,8867"}
]
},
"layer": [
{
"data": {"name": "bands"},
"mark": {"type": "rect", "fill": "#ffffff", "fillOpacity": 0.028, "clip": true},
"encoding": {
"x": {"field": "s", "type": "temporal",
"scale": {"type": "utc", "domain": [{"year":2023,"month":4,"date":15,"hours":14,"utc":true},{"year":2025,"month":6,"date":23,"hours":19,"utc":true}]},
"axis": {"orient": "bottom", "title": null, "values": [
{"year":2023,"month":5,"date":16,"hours":12,"utc":true},{"year":2023,"month":8,"date":16,"utc":true},{"year":2023,"month":11,"date":15,"hours":12,"utc":true},{"year":2024,"month":2,"date":15,"hours":12,"utc":true},{"year":2024,"month":5,"date":16,"hours":12,"utc":true},{"year":2024,"month":8,"date":16,"utc":true},{"year":2024,"month":11,"date":16,"utc":true},{"year":2025,"month":2,"date":14,"hours":12,"utc":true},{"year":2025,"month":5,"date":16,"hours":12,"utc":true}],
"labelExpr": "'Q' + (floor(utcmonth(datum.value)/3)+1) + ' ' + utcyear(datum.value)",
"ticks": false, "tickSize": 0, "domain": false, "grid": false, "offset": 22, "labelPadding": 5,
"labelFont": "Liberation Sans Narrow, Arial Narrow, Liberation Sans", "labelFontSize": 18, "labelFontWeight": "bold", "labelColor": "#dde3ea"}},
"x2": {"field": "e"}
}
},
{
"data": {"name": "candles"},
"mark": {"type": "rule", "color": "#ff9d00", "strokeWidth": 1},
"encoding": {
"x": {"field": "d", "type": "temporal",
"axis": {"orient": "bottom", "title": null, "values": [
{"year":2023,"month":4,"date":17,"utc":true},{"year":2023,"month":5,"date":1,"utc":true},{"year":2023,"month":5,"date":16,"utc":true},{"year":2023,"month":6,"date":1,"utc":true},{"year":2023,"month":6,"date":16,"utc":true},{"year":2023,"month":7,"date":3,"utc":true},{"year":2023,"month":7,"date":17,"utc":true},{"year":2023,"month":8,"date":1,"utc":true},{"year":2023,"month":8,"date":16,"utc":true},{"year":2023,"month":9,"date":1,"utc":true},{"year":2023,"month":9,"date":18,"utc":true},{"year":2023,"month":10,"date":2,"utc":true},{"year":2023,"month":10,"date":16,"utc":true},{"year":2023,"month":11,"date":1,"utc":true},{"year":2023,"month":11,"date":16,"utc":true},{"year":2023,"month":12,"date":1,"utc":true},{"year":2023,"month":12,"date":18,"utc":true},
{"year":2024,"month":1,"date":1,"utc":true},{"year":2024,"month":1,"date":16,"utc":true},{"year":2024,"month":2,"date":1,"utc":true},{"year":2024,"month":2,"date":16,"utc":true},{"year":2024,"month":3,"date":1,"utc":true},{"year":2024,"month":3,"date":18,"utc":true},{"year":2024,"month":4,"date":1,"utc":true},{"year":2024,"month":4,"date":16,"utc":true},{"year":2024,"month":5,"date":1,"utc":true},{"year":2024,"month":5,"date":16,"utc":true},{"year":2024,"month":6,"date":3,"utc":true},{"year":2024,"month":6,"date":17,"utc":true},{"year":2024,"month":7,"date":1,"utc":true},{"year":2024,"month":7,"date":16,"utc":true},{"year":2024,"month":8,"date":1,"utc":true},{"year":2024,"month":8,"date":16,"utc":true},{"year":2024,"month":9,"date":2,"utc":true},{"year":2024,"month":9,"date":16,"utc":true},{"year":2024,"month":10,"date":1,"utc":true},{"year":2024,"month":10,"date":16,"utc":true},{"year":2024,"month":11,"date":1,"utc":true},{"year":2024,"month":11,"date":18,"utc":true},{"year":2024,"month":12,"date":2,"utc":true},{"year":2024,"month":12,"date":16,"utc":true},
{"year":2025,"month":1,"date":1,"utc":true},{"year":2025,"month":1,"date":16,"utc":true},{"year":2025,"month":2,"date":3,"utc":true},{"year":2025,"month":2,"date":17,"utc":true},{"year":2025,"month":3,"date":3,"utc":true},{"year":2025,"month":3,"date":17,"utc":true},{"year":2025,"month":4,"date":1,"utc":true},{"year":2025,"month":4,"date":16,"utc":true},{"year":2025,"month":5,"date":1,"utc":true},{"year":2025,"month":5,"date":16,"utc":true},{"year":2025,"month":6,"date":2,"utc":true},{"year":2025,"month":6,"date":16,"utc":true}],
"labelExpr": "utcFormat(datum.value, '%d')",
"grid": true, "gridColor": "#262626", "gridWidth": 1,
"tickColor": "#c8c8c8", "tickSize": 5, "domainColor": "#3a3a3a",
"labelColor": "#cfd6de", "labelFont": "Liberation Sans Narrow, Arial Narrow, Liberation Sans", "labelFontSize": 18, "labelPadding": 3}},
"y": {"field": "l", "type": "quantitative",
"scale": {"domain": [20.354, 37.639], "nice": false, "zero": false},
"axis": {"orient": "right", "values": [21,22,23,24,25,26,27,28,29,30,31,32,33,34,35,36,37],
"labelExpr": "(datum.value > 36.5 || datum.value == 30 || datum.value == 34) ? '' : datum.label",
"grid": true, "gridColor": "#262626", "gridWidth": 1,
"tickColor": "#e8e8e8", "tickSize": 5, "domainColor": "#ffffff",
"labelColor": "#cdd5dc", "labelFont": "Liberation Sans", "labelFontSize": 17, "labelPadding": 3,
"title": ["USD", "Ozs"], "titleAngle": 0, "titleAlign": "left", "titleBaseline": "alphabetic",
"titleX": 5, "titleY": 5, "titleLineHeight": 24, "titleFont": "Liberation Sans", "titleFontSize": 17, "titleFontWeight": "bold", "titleColor": "#d5dce3"}},
"y2": {"field": "h"}
}
},
{
"data": {"name": "candles"},
"mark": {"type": "bar", "width": 2.8, "stroke": "#ff9d00", "strokeWidth": 0.9},
"encoding": {
"x": {"field": "d", "type": "temporal", "axis": null},
"y": {"field": "o", "type": "quantitative"},
"y2": {"field": "c"},
"fill": {"condition": {"test": "datum.c > datum.o", "value": "#0e0e0e"}, "value": "#ff9d00"}
}
},
{
"data": {"name": "ma"},
"mark": {"type": "line", "strokeWidth": 1, "clip": true},
"encoding": {
"x": {"field": "d", "type": "temporal", "axis": null},
"y": {"field": "v", "type": "quantitative"},
"color": {"field": "s", "type": "nominal", "legend": null,
"scale": {"domain": ["Silver", "MA50", "MA100"], "range": ["#ff9d00", "#dc2ff0", "#5cd400"]}}
}
},
{
"data": {"name": "trend"},
"mark": {"type": "line", "color": "#ffff00", "strokeWidth": 1, "clip": true},
"encoding": {
"x": {"field": "d", "type": "temporal",
"axis": {"orient": "bottom", "title": null, "values": [
{"year":2023,"month":7,"date":3,"utc":true},{"year":2023,"month":10,"date":2,"utc":true},{"year":2024,"month":1,"date":1,"utc":true},{"year":2024,"month":4,"date":1,"utc":true},{"year":2024,"month":7,"date":1,"utc":true},{"year":2024,"month":10,"date":1,"utc":true},{"year":2025,"month":1,"date":1,"utc":true},{"year":2025,"month":4,"date":1,"utc":true}],
"labels": false, "domain": false, "grid": false, "ticks": true, "tickSize": 22, "tickColor": "#c8c8c8", "offset": 25}},
"y": {"field": "v", "type": "quantitative"},
"detail": {"field": "line"}
}
},
{
"data": {"values": [{}]},
"mark": {"type": "rect", "fillOpacity": 0, "stroke": "#00ff00", "strokeWidth": 1.5},
"encoding": {
"x": {"datum": {"year":2024,"month":5,"date":17,"utc":true}, "type": "temporal", "axis": null},
"x2": {"datum": {"year":2024,"month":10,"date":26,"utc":true}},
"y": {"datum": 32.09, "type": "quantitative"},
"y2": {"datum": 29.06}
}
},
{
"data": {"values": [{}]},
"mark": {"type": "rect", "fillOpacity": 0, "stroke": "#ff9900", "strokeWidth": 1},
"encoding": {
"x": {"datum": {"year":2023,"month":10,"date":23,"hours":3,"utc":true}, "type": "temporal", "axis": null},
"x2": {"datum": {"year":2023,"month":12,"date":12,"hours":7,"utc":true}},
"y": {"datum": 32.23, "type": "quantitative"},
"y2": {"datum": 30.91}
}
},
{
"data": {"values": [{}]},
"mark": {"type": "text", "text": "Silver", "font": "Liberation Sans", "fontSize": 24, "color": "#ff9900", "align": "center", "baseline": "middle"},
"encoding": {
"x": {"datum": {"year":2023,"month":11,"date":17,"hours":5,"utc":true}, "type": "temporal", "axis": null},
"y": {"datum": 31.58, "type": "quantitative"}
}
},
{
"data": {"name": "last"},
"mark": {"type": "bar", "size": 21},
"encoding": {
"x": {"datum": {"year":2025,"month":6,"date":23,"hours":19,"utc":true}, "type": "temporal", "axis": null},
"x2": {"datum": {"year":2025,"month":9,"date":1,"utc":true}},
"y": {"field": "v", "type": "quantitative"},
"color": {"field": "s", "type": "nominal", "legend": null}
}
},
{
"data": {"name": "last"},
"transform": [{"filter": "datum.s == 'Silver'"}],
"mark": {"type": "text", "align": "left", "baseline": "middle", "dx": 2, "font": "Liberation Sans", "fontSize": 18, "fontWeight": "bold", "color": "#000000"},
"encoding": {
"x": {"datum": {"year":2025,"month":6,"date":23,"hours":19,"utc":true}, "type": "temporal", "axis": null},
"y": {"field": "v", "type": "quantitative"},
"text": {"field": "label"}
}
},
{
"data": {"name": "last"},
"transform": [{"filter": "datum.s != 'Silver'"}],
"mark": {"type": "text", "align": "left", "baseline": "middle", "dx": 2, "font": "Liberation Sans", "fontSize": 16},
"encoding": {
"x": {"datum": {"year":2025,"month":6,"date":23,"hours":19,"utc":true}, "type": "temporal", "axis": null},
"y": {"field": "v", "type": "quantitative"},
"text": {"field": "label"},
"color": {"condition": {"test": "datum.s == 'MA100'", "value": "#ffffff"}, "value": "#1a001a"}
}
},
{
"data": {"values": [{}]},
"mark": {"type": "rect", "fillOpacity": 0, "stroke": "#d0d0d0", "strokeWidth": 1},
"encoding": {
"x": {"datum": {"year":2025,"month":6,"date":27,"hours":17,"utc":true}, "type": "temporal", "axis": null},
"x2": {"datum": {"year":2025,"month":7,"date":21,"hours":10,"utc":true}},
"y": {"datum": 20.83, "type": "quantitative"},
"y2": {"datum": 20.35}
}
},
{
"data": {"values": [{}]},
"mark": {"type": "text", "text": "Auto", "font": "Liberation Sans", "fontSize": 16, "fontWeight": "bold", "color": "#ffffff", "align": "center", "baseline": "middle"},
"encoding": {
"x": {"datum": {"year":2025,"month":7,"date":9,"hours":13,"utc":true}, "type": "temporal", "axis": null},
"y": {"datum": 20.59, "type": "quantitative"}
}
}
],
"resolve": {"axis": {"x": "independent"}}
}
